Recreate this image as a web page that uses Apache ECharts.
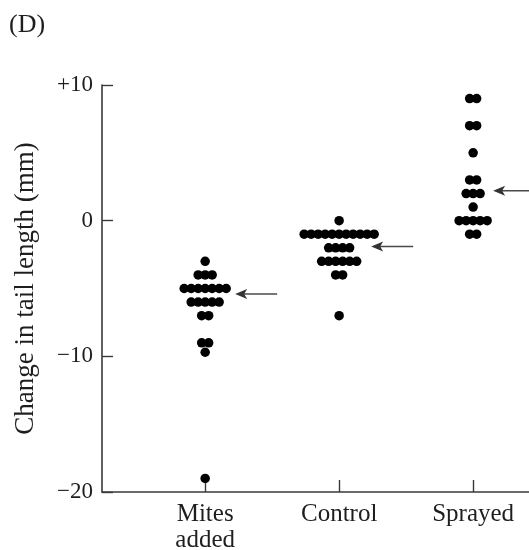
<!DOCTYPE html>
<html>
<head>
<meta charset="utf-8">
<script src="https://cdn.jsdelivr.net/npm/echarts@6/dist/echarts.min.js"></script>
<style>
  html, body { margin: 0; padding: 0; background: #fff; }
  #chart { width: 529px; height: 550px; }
</style>
</head>
<body>
<div id="chart"></div>
<script>
// Treatment groups along the x axis
const categories = ['Mites\nadded', 'Control', 'Sprayed'];

// Change in tail length (mm), one entry per bird
const mitesAdded = [-3, -4, -4, -4, -5, -5, -5, -5, -5, -5, -5, -6, -6, -6, -6, -6,
  -7, -7, -9, -9, -9.7, -19];
const control = [0, -1, -1, -1, -1, -1, -1, -1, -1, -1, -1, -1, -2, -2, -2, -2,
  -3, -3, -3, -3, -3, -3, -4, -4, -7];
const sprayed = [9, 9, 7, 7, 5, 3, 3, 2, 2, 2, 1, 0, 0, 0, 0, 0, -1, -1];

// Group means marked by arrows
const meanValues = [-5.4, -1.9, 2.2];

// Y axis range and tick step
const yMin = -20, yMax = 10, yStep = 10;

const groups = [mitesAdded, control, sprayed];

// Dot layout: identical values are stacked side by side in a row
const DOT_SIZE = 9.5;
const DOT_GAP = 7;
function buildDots(values, groupIndex) {
  const counts = {};
  values.forEach(v => { counts[v] = (counts[v] || 0) + 1; });
  const seen = {};
  return values.map(v => {
    const i = seen[v] || 0;
    seen[v] = i + 1;
    const dx = (i - (counts[v] - 1) / 2) * DOT_GAP;
    return { value: [groupIndex + 1, v], symbolOffset: [dx, 0] };
  });
}
const dotData = [];
groups.forEach((vals, gi) => dotData.push(...buildDots(vals, gi)));

// Arrow placement relative to each group's centre (px)
const ARROW_TIP = [30, 32, 20];
const ARROW_LEN = 42;

const serif = '"Liberation Serif", "DejaVu Serif", serif';
const axisColor = '#3a3a3a';
const textColor = '#1e1e1e';

const chart = echarts.init(document.getElementById('chart'), null, { renderer: 'canvas' });
chart.setOption({
  animation: false,
  backgroundColor: '#fff',
  title: {
    text: '(D)',
    left: 4,
    top: 7,
    textStyle: { fontFamily: serif, fontSize: 26, fontWeight: 'normal', color: textColor }
  },
  grid: { left: 102, right: 0, top: 85, bottom: 58, containLabel: false, outerBoundsMode: 'none' },
  xAxis: {
    type: 'value',
    min: 0.23,
    max: 3.417,
    splitLine: { show: false },
    axisLine: { show: true, onZero: false, lineStyle: { color: axisColor, width: 1.6 } },
    axisTick: {
      show: true, inside: true, length: 12, customValues: [1, 2, 3],
      lineStyle: { color: axisColor, width: 1.4 }
    },
    axisLabel: {
      customValues: [1, 2, 3],
      formatter: v => categories[Math.round(v) - 1] || '',
      margin: 9,
      fontFamily: serif,
      fontSize: 25,
      lineHeight: 26,
      color: textColor
    }
  },
  yAxis: {
    type: 'value',
    min: yMin,
    max: yMax,
    interval: yStep,
    name: 'Change in tail length (mm)',
    nameLocation: 'middle',
    nameGap: 63,
    nameRotate: 90,
    nameTextStyle: { fontFamily: serif, fontSize: 27, color: textColor },
    splitLine: { show: false },
    axisLine: { show: true, onZero: false, lineStyle: { color: axisColor, width: 1.6 } },
    axisTick: { show: true, inside: true, length: 11, lineStyle: { color: axisColor, width: 1.4 } },
    axisLabel: {
      margin: 9,
      fontFamily: serif,
      fontSize: 23,
      color: textColor,
      formatter: v => v > 0 ? '+' + v : (v < 0 ? '\u2212' + Math.abs(v) : '0')
    }
  },
  series: [
    {
      type: 'scatter',
      symbol: 'circle',
      symbolSize: DOT_SIZE,
      itemStyle: { color: '#000', opacity: 1 },
      data: dotData,
      z: 3
    },
    {
      type: 'custom',
      clip: false,
      data: meanValues.map((v, i) => [i + 1, v]),
      renderItem: (params, api) => {
        const p = api.coord([api.value(0), api.value(1)]);
        const x0 = p[0] + ARROW_TIP[params.dataIndex];
        const y = p[1];
        return {
          type: 'group',
          children: [
            {
              type: 'line',
              shape: { x1: x0 + 6, y1: y, x2: x0 + ARROW_LEN, y2: y },
              style: { stroke: '#4a4a4a', lineWidth: 1.6 }
            },
            {
              type: 'polygon',
              shape: { points: [[x0, y], [x0 + 12, y - 5], [x0 + 9, y], [x0 + 12, y + 5]] },
              style: { fill: '#333' }
            }
          ]
        };
      },
      z: 4
    }
  ]
});
</script>
</body>
</html>
